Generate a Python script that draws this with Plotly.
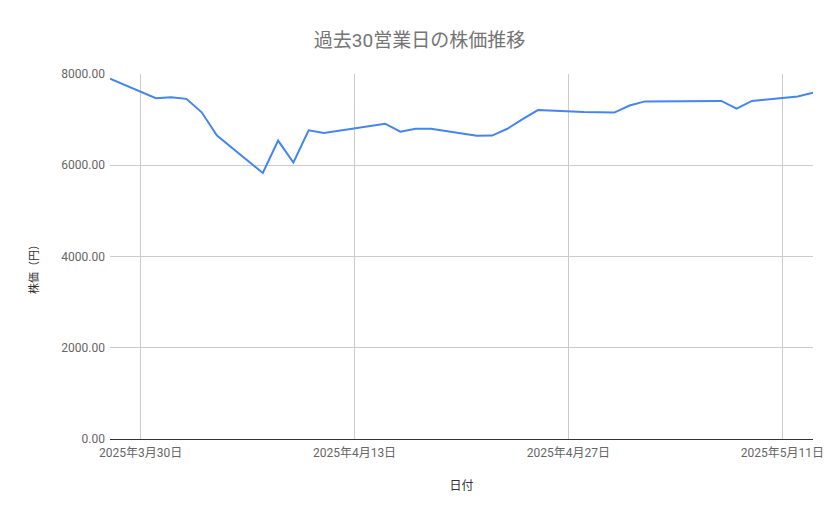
import plotly.graph_objects as go

dates = ["2025-03-28", "2025-03-31", "2025-04-01", "2025-04-02", "2025-04-03", "2025-04-04",
         "2025-04-07", "2025-04-08", "2025-04-09", "2025-04-10", "2025-04-11",
         "2025-04-14", "2025-04-15", "2025-04-16", "2025-04-17", "2025-04-18",
         "2025-04-21", "2025-04-22", "2025-04-23", "2025-04-24", "2025-04-25",
         "2025-04-28", "2025-04-30", "2025-05-01", "2025-05-02",
         "2025-05-07", "2025-05-08", "2025-05-09", "2025-05-12", "2025-05-13"]
prices = [7900, 7470, 7490, 7455, 7160, 6650,
          5830, 6540, 6060, 6765, 6705,
          6860, 6910, 6735, 6800, 6800,
          6645, 6650, 6800, 7010, 7210,
          7165, 7155, 7310, 7400,
          7410, 7240, 7410, 7505, 7590]

x_tick_vals = ["2025-03-30", "2025-04-13", "2025-04-27", "2025-05-11"]
x_tick_text = ["2025年3月30日", "2025年4月13日", "2025年4月27日", "2025年5月11日"]
y_tick_vals = [0, 2000, 4000, 6000, 8000]

FONT = "Roboto, 'Noto Sans CJK JP', sans-serif"
CJK = "'Noto Sans CJK JP', Roboto, sans-serif"

W, H = 839, 519
ML, MR, MT, MB = 110, 26, 74, 80
PW, PH = W - ML - MR, H - MT - MB

fig = go.Figure()
fig.add_trace(go.Scatter(
    x=dates, y=prices, mode="lines",
    line=dict(color="#4285F4", width=2),
    hoverinfo="x+y", showlegend=False,
))

fig.update_layout(
    width=W, height=H,
    margin=dict(l=ML, r=MR, t=MT, b=MB),
    paper_bgcolor="white", plot_bgcolor="white",
    font=dict(family=FONT, color="#222222"),
    title=dict(text="過去30営業日の株価推移", x=0.5, xanchor="center",
               y=1 - 40 / H, yanchor="middle",
               font=dict(size=19, color="#757575", family=FONT)),
    xaxis=dict(
        type="date",
        range=["2025-03-28", "2025-05-13"],
        tickvals=x_tick_vals, ticktext=x_tick_text,
        showgrid=True, gridcolor="#cccccc", gridwidth=1,
        showline=False, zeroline=False, ticks="",
        ticklabelstandoff=5,
        tickfont=dict(size=12, color="#666666"),
        title=dict(text="日付", font=dict(size=12, color="#333333"), standoff=22),
        fixedrange=True,
    ),
    yaxis=dict(
        range=[0, 8000],
        tickvals=y_tick_vals, tickformat=".2f",
        showgrid=True, gridcolor="#cccccc", gridwidth=1,
        zeroline=True, zerolinecolor="#333333", zerolinewidth=1.3,
        showline=False, ticks="",
        ticklabelstandoff=4,
        tickfont=dict(size=12, color="#666666"),
        fixedrange=True,
    ),
    annotations=[dict(
        text="株価（円）", textangle=-90, showarrow=False,
        xref="paper", yref="paper",
        x=(33 - ML) / PW, y=(H - MB - 267) / PH,
        xanchor="center", yanchor="middle",
        font=dict(size=11, color="#333333", family=CJK),
    )],
)

fig.write_html("out.html", config={"displayModeBar": False},
               post_script="document.body.style.margin='0';document.body.style.overflow='hidden';")
